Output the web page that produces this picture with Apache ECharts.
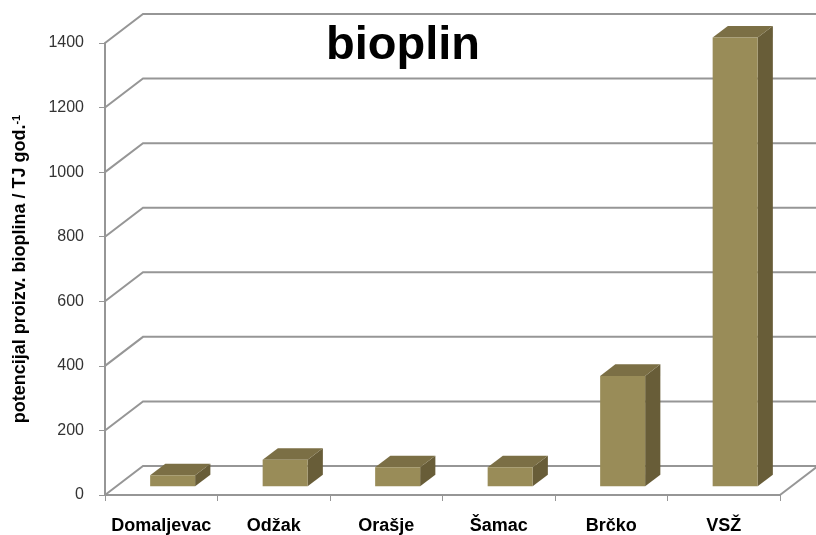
<!DOCTYPE html>
<html>
<head>
<meta charset="utf-8">
<script src="https://cdn.jsdelivr.net/npm/echarts@6/dist/echarts.min.js"></script>
<style>
html,body{margin:0;padding:0;background:#fff;}
#chart{width:816px;height:535px;}
</style>
</head>
<body>
<div id="chart"></div>
<script>
// ---- data ----
var categories = ['Domaljevac', 'Odžak', 'Orašje', 'Šamac', 'Brčko', 'VSŽ'];
var values = [34, 82, 59, 59, 342, 1390];
var yTicks = [0, 200, 400, 600, 800, 1000, 1200, 1400];
var titleText = 'bioplin';
var yName = 'potencijal proizv. bioplina / TJ god.';

// ---- 3D style constants ----
var DX = 38, DY = -29;          // depth offset of the back wall
var D_FRONT = 0.3, D_BACK = 0.7; // bar depth range (fraction of depth)
var BAR_FRAC = 0.4;              // bar width / category width
var GRID_COLOR = '#969696';
var FRONT = '#998c58', SIDE = '#685d38', TOP = '#7b6f45';

var chart = echarts.init(document.getElementById('chart'), null, {renderer: 'canvas'});

function frameItem(params, api) {
  var v = api.value(0);
  var bandW = api.size([1, 0])[0];
  var pL = api.coord([0, v]);
  var pR = api.coord([categories.length - 1, v]);
  var xl = pL[0] - bandW / 2, xr = pR[0] + bandW / 2, y = pL[1];
  var style = {stroke: GRID_COLOR, lineWidth: 2, fill: null};
  var children = [{
    type: 'polyline',
    shape: {points: [[xl, y], [xl + DX, y + DY], [xr + DX, y + DY]]},
    style: style
  }];
  if (v === 0) {
    children.push({
      type: 'line',
      shape: {x1: xr, y1: y, x2: xr + DX, y2: y + DY},
      style: style
    });
  }
  return {type: 'group', children: children};
}

function barItem(params, api) {
  var idx = api.value(0), v = api.value(1);
  var bandW = api.size([1, 0])[0];
  var bw = bandW * BAR_FRAC;
  var p0 = api.coord([idx, 0]);
  var p1 = api.coord([idx, v]);
  var l = p0[0] - bw / 2 + D_FRONT * DX;
  var r = l + bw;
  var b = p0[1] + D_FRONT * DY;
  var t = p1[1] + D_FRONT * DY;
  var ddx = (D_BACK - D_FRONT) * DX, ddy = (D_BACK - D_FRONT) * DY;
  return {
    type: 'group',
    children: [
      {type: 'polygon', shape: {points: [[r, b], [r + ddx, b + ddy], [r + ddx, t + ddy], [r, t]]}, style: {fill: SIDE}},
      {type: 'polygon', shape: {points: [[l, t], [r, t], [r + ddx, t + ddy], [l + ddx, t + ddy]]}, style: {fill: TOP}},
      {type: 'rect', shape: {x: l, y: t, width: bw, height: b - t}, style: {fill: FRONT}}
    ]
  };
}

var option = {
  backgroundColor: '#ffffff',
  animation: false,
  title: {
    text: titleText,
    left: 403,
    top: 23,
    padding: 0,
    textAlign: 'center',
    textStyle: {fontFamily: 'Liberation Sans', fontSize: 47, fontWeight: 'bold', color: '#000'}
  },
  grid: {left: 105, right: 36, top: 43, bottom: 37, containLabel: false},
  xAxis: {
    type: 'category',
    data: categories,
    boundaryGap: true,
    axisLine: {show: true, lineStyle: {color: GRID_COLOR, width: 2}},
    axisTick: {show: true, length: 6, lineStyle: {color: GRID_COLOR, width: 1}},
    axisLabel: {margin: 22, fontFamily: 'Liberation Sans', fontSize: 18, fontWeight: 'bold', color: '#000', interval: 0},
    splitLine: {show: false}
  },
  yAxis: {
    type: 'value',
    min: 0, max: 1400, interval: 200,
    axisLine: {show: true, lineStyle: {color: GRID_COLOR, width: 2}},
    axisTick: {show: true, length: 6, lineStyle: {color: GRID_COLOR, width: 1}},
    axisLabel: {margin: 21, fontFamily: 'Liberation Sans', fontSize: 16, color: '#333',
      formatter: function (v) { return String(v); }},
    splitLine: {show: false},
    name: yName + '{sup|-1}',
    nameLocation: 'middle',
    nameRotate: 90,
    nameGap: 76,
    nameTextStyle: {
      fontFamily: 'Liberation Sans', fontSize: 18, fontWeight: 'bold', color: '#000',
      rich: {sup: {fontFamily: 'Liberation Sans', fontSize: 11, fontWeight: 'bold', color: '#000', verticalAlign: 'top', lineHeight: 18}}
    }
  },
  series: [
    {
      type: 'custom',
      z: 1,
      renderItem: frameItem,
      data: yTicks.map(function (t) { return [t]; }),
      encode: {y: 0},
      silent: true
    },
    {
      type: 'custom',
      z: 5,
      renderItem: barItem,
      data: values.map(function (v, i) { return [i, v]; }),
      encode: {x: 0, y: 1},
      silent: true
    }
  ]
};
chart.setOption(option);
</script>
</body>
</html>
